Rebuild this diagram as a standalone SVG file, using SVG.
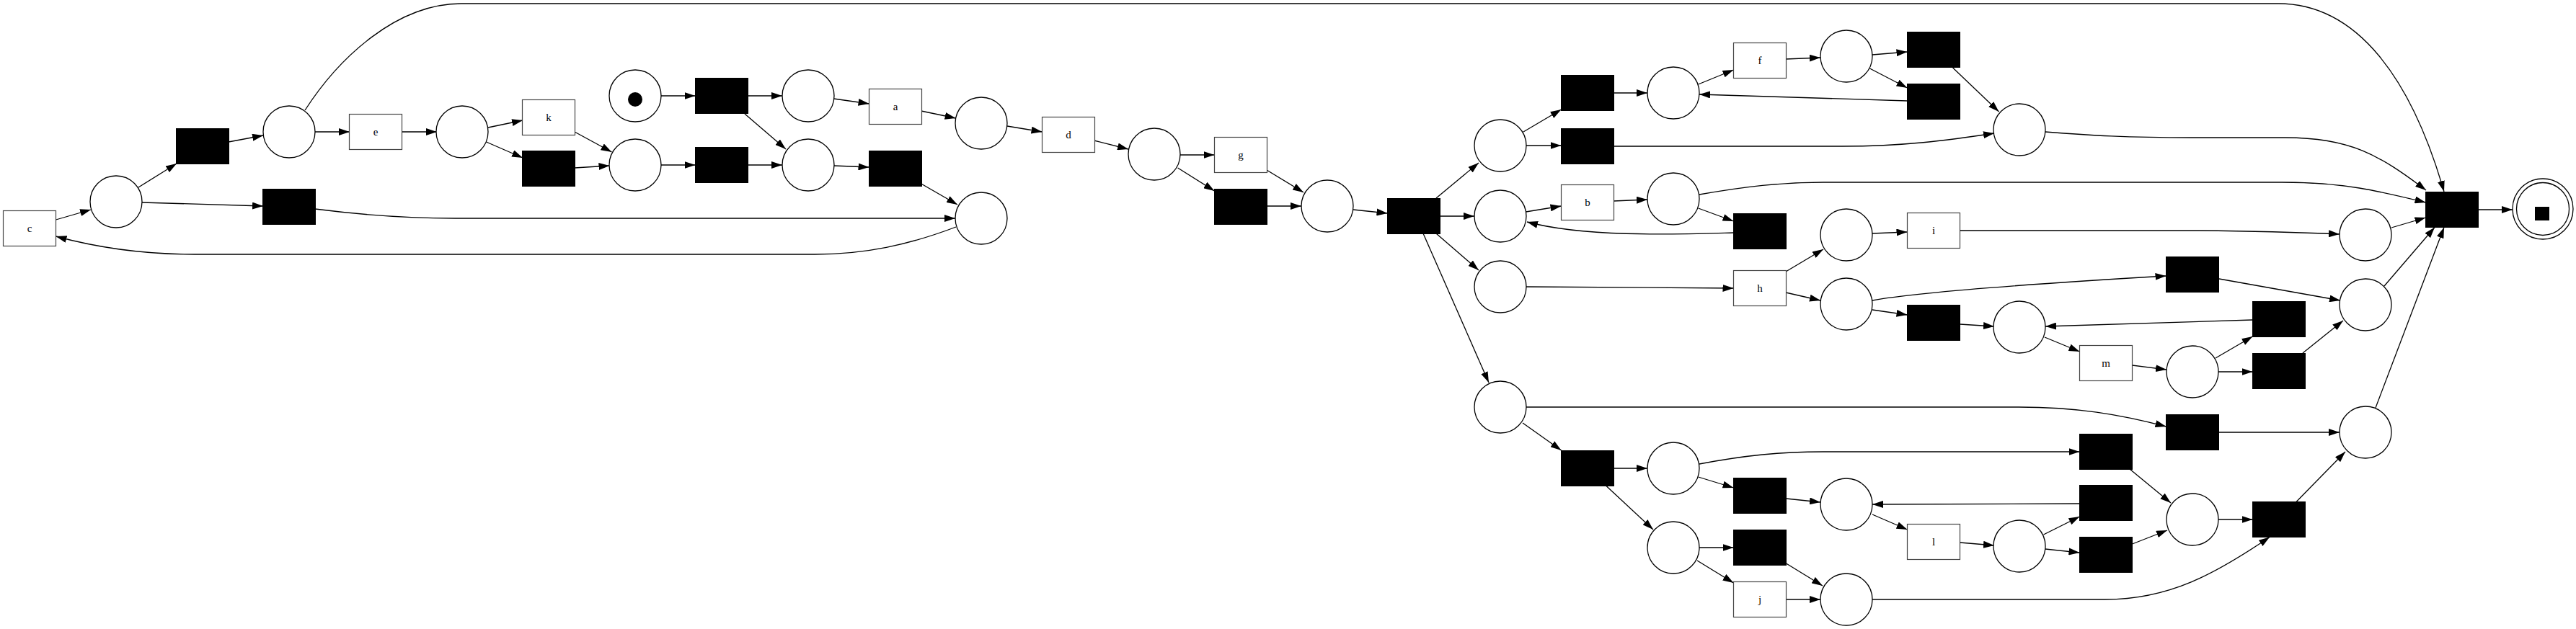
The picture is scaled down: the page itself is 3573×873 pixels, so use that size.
<svg xmlns="http://www.w3.org/2000/svg" width="3573" height="873" viewBox="0 0 3573 873">
<defs>
<style>
.p{fill:#fff;stroke:#000;stroke-width:1.3}
.t{fill:#fff;stroke:#444;stroke-width:1.2}
.s{fill:#000;stroke:#000;stroke-width:1}
.e{fill:none;stroke:#000;stroke-width:1.3;marker-end:url(#ah)}
.l{font-family:"Liberation Serif","Times New Roman",serif;font-size:15px;text-anchor:middle;fill:#000}
</style>
<marker id="ah" markerUnits="userSpaceOnUse" markerWidth="15" markerHeight="10" refX="15" refY="5" orient="auto" viewBox="0 0 15 10">
<path d="M0,0 L15,5 L0,10 Z" fill="#000"/>
</marker>
</defs>
<rect width="3573" height="873" fill="#fff"/>
<g id="edges">
<path class="e" d="M77.5,305 L126,291"/>
<path class="e" d="M192,260 L245,227"/>
<path class="e" d="M197,281 L365,286"/>
<path class="e" d="M317,197 L365,188"/>
<path class="e" d="M437,183 L485,183"/>
<path class="e" d="M557,183 L606,183"/>
<path class="e" d="M677,177 L725,167"/>
<path class="e" d="M674.5,197 L725,219"/>
<path class="e" d="M797,183 L848.5,211"/>
<path class="e" d="M797,233 L845.5,230"/>
<path class="e" d="M437,290 C500,298 560,303 631,303 L1325,303"/>
<path class="e" d="M1326,315 C1260,340 1200,353 1130,353 L270,353 C200,353 140,345 77.5,328"/>
<path class="e" d="M423,153 C470,80 550,5 640,5 L3160,5 C3270,5 3345,110 3390,266"/>
<path class="e" d="M917,133 L964.5,133"/>
<path class="e" d="M1038,133 L1085,133"/>
<path class="e" d="M1033,158 L1090,207"/>
<path class="e" d="M917,229 L964.5,229"/>
<path class="e" d="M1038,229 L1085,229"/>
<path class="e" d="M1156.5,137 L1205.5,144"/>
<path class="e" d="M1277.7,154 L1325.6,164"/>
<path class="e" d="M1397,175 L1445.5,183"/>
<path class="e" d="M1517.5,195 L1565,207"/>
<path class="e" d="M1637,215 L1684.5,215"/>
<path class="e" d="M1633.6,233 L1684.5,265"/>
<path class="e" d="M1156.5,230 L1205.5,232"/>
<path class="e" d="M1277.7,255 L1328,284"/>
<path class="e" d="M1757,236 L1808,267"/>
<path class="e" d="M1757,286 L1805,286"/>
<path class="e" d="M1877,291 L1924.5,296"/>
<path class="e" d="M1992,275 L2051,226"/>
<path class="e" d="M1997,300 L2045,300"/>
<path class="e" d="M1992,324 L2051,375"/>
<path class="e" d="M1974,324 L2065,531"/>
<path class="e" d="M2113,183 L2165.5,152"/>
<path class="e" d="M2116,202 L2165.5,202"/>
<path class="e" d="M2238,129 L2285,129"/>
<path class="e" d="M2355.6,117 L2404.5,97"/>
<path class="e" d="M2477,82 L2525,80"/>
<path class="e" d="M2597,76 L2645.5,72"/>
<path class="e" d="M2593.5,95 L2645.5,122"/>
<path class="e" d="M2645.5,140 L2357,131"/>
<path class="e" d="M2708.6,94 L2772.5,155"/>
<path class="e" d="M2238,203 L2555,203 C2640,203 2700,195 2766,185"/>
<path class="e" d="M2837,183 C2900,188 2950,191 3040,191 L3170,191 C3260,191 3300,215 3365,264"/>
<path class="e" d="M2116.5,294 L2165.5,286"/>
<path class="e" d="M2238,279 L2285,277"/>
<path class="e" d="M2355.6,289 L2404.5,307"/>
<path class="e" d="M2404.5,323 C2330,325 2200,330 2118,308"/>
<path class="e" d="M2357,270 C2420,259 2470,253 2529,253 L3165,253 C3250,253 3300,265 3364.5,281"/>
<path class="e" d="M2117,398 L2404.5,400"/>
<path class="e" d="M2477,377 L2529,346"/>
<path class="e" d="M2477,406 L2525,417"/>
<path class="e" d="M2597,324 L2645.5,322"/>
<path class="e" d="M2718.5,320 L3050,320 C3150,321 3200,323 3245,325"/>
<path class="e" d="M3317,316 L3364.5,302"/>
<path class="e" d="M2597,417 C2650,407 2800,395 3004.5,383"/>
<path class="e" d="M2597,430 L2645.5,437"/>
<path class="e" d="M3078,387 L3246,417"/>
<path class="e" d="M3124.5,444 L2837,453"/>
<path class="e" d="M2718.5,450 L2766,453"/>
<path class="e" d="M2836,468 L2884.5,488"/>
<path class="e" d="M2957.5,507 L3005,513"/>
<path class="e" d="M3073,497 L3124.5,467"/>
<path class="e" d="M3077,516 L3124.5,516"/>
<path class="e" d="M3194,490 L3250,445"/>
<path class="e" d="M3307,397 L3377,315.5"/>
<path class="e" d="M3295,566 L3390,315.5"/>
<path class="e" d="M2117,565 L2800,565 C2880,565 2940,575 3004.5,592"/>
<path class="e" d="M2112,587 L2165.5,625"/>
<path class="e" d="M3077.5,600 L3245,600"/>
<path class="e" d="M2238,650 L2285,650"/>
<path class="e" d="M2228,674.5 L2293,735"/>
<path class="e" d="M2357,644 C2420,632 2470,627 2529,627 L2884.5,627"/>
<path class="e" d="M2355.6,662 L2404.5,677"/>
<path class="e" d="M2477.5,692 L2525,697"/>
<path class="e" d="M2884.5,699 L2597,700"/>
<path class="e" d="M2597,714 L2645.5,735"/>
<path class="e" d="M2718.5,753 L2766,757"/>
<path class="e" d="M2834.5,742 L2884.5,717"/>
<path class="e" d="M2837,762 L2884.5,767"/>
<path class="e" d="M2954,651 L3011,698"/>
<path class="e" d="M2957.5,755 L3006,736"/>
<path class="e" d="M3077,721 L3124.5,721"/>
<path class="e" d="M3185,696.5 L3253,627"/>
<path class="e" d="M2357,760 L2404.5,760"/>
<path class="e" d="M2354,778 L2404.5,809"/>
<path class="e" d="M2477.5,782 L2528,813"/>
<path class="e" d="M2477.5,832 L2525,832"/>
<path class="e" d="M2597,832 L2920,832 C3010,832 3075,795 3148,745.5"/>
<path class="e" d="M3437.5,291 L3485,291"/>
</g>
<g id="c"><rect class="t" x="4.5" y="292.5" width="73" height="49"/><text class="l" x="41" y="322">c</text></g>
<g id="e"><rect class="t" x="484.5" y="158.5" width="73" height="49"/><text class="l" x="521" y="188">e</text></g>
<g id="k"><rect class="t" x="724.5" y="138.5" width="73" height="49"/><text class="l" x="761" y="168">k</text></g>
<g id="a"><rect class="t" x="1205.5" y="123.5" width="73" height="49"/><text class="l" x="1242" y="153">a</text></g>
<g id="d"><rect class="t" x="1445.5" y="162.5" width="73" height="49"/><text class="l" x="1482" y="192">d</text></g>
<g id="g"><rect class="t" x="1684.5" y="190.5" width="73" height="49"/><text class="l" x="1721" y="220">g</text></g>
<g id="f"><rect class="t" x="2404.5" y="59.5" width="73" height="49"/><text class="l" x="2441" y="89">f</text></g>
<g id="b"><rect class="t" x="2165.5" y="256.5" width="73" height="49"/><text class="l" x="2202" y="286">b</text></g>
<g id="h"><rect class="t" x="2404.5" y="375.5" width="73" height="49"/><text class="l" x="2441" y="405">h</text></g>
<g id="i"><rect class="t" x="2645.5" y="295.5" width="73" height="49"/><text class="l" x="2682" y="325">i</text></g>
<g id="m"><rect class="t" x="2884.5" y="479.5" width="73" height="49"/><text class="l" x="2921" y="509">m</text></g>
<g id="l"><rect class="t" x="2645.5" y="727.5" width="73" height="49"/><text class="l" x="2682" y="757">l</text></g>
<g id="j"><rect class="t" x="2404.5" y="807.5" width="73" height="49"/><text class="l" x="2441" y="837">j</text></g>
<g id="t1"><rect class="s" x="244.5" y="178.5" width="73" height="49"/></g>
<g id="t2"><rect class="s" x="364.5" y="262.5" width="73" height="49"/></g>
<g id="t3"><rect class="s" x="724.5" y="209.5" width="73" height="49"/></g>
<g id="t4"><rect class="s" x="964.5" y="108.5" width="73" height="49"/></g>
<g id="t5"><rect class="s" x="1684.5" y="262.5" width="73" height="49"/></g>
<g id="t6"><rect class="s" x="964.5" y="204.5" width="73" height="49"/></g>
<g id="t7"><rect class="s" x="1205.5" y="209.5" width="73" height="49"/></g>
<g id="t8"><rect class="s" x="1924.5" y="275.5" width="73" height="49"/></g>
<g id="t9"><rect class="s" x="2165.5" y="104.5" width="73" height="49"/></g>
<g id="t10"><rect class="s" x="2165.5" y="178.5" width="73" height="49"/></g>
<g id="t11"><rect class="s" x="2404.5" y="296.5" width="73" height="49"/></g>
<g id="t12"><rect class="s" x="2645.5" y="44.5" width="73" height="49"/></g>
<g id="t13"><rect class="s" x="2645.5" y="116.5" width="73" height="49"/></g>
<g id="t14"><rect class="s" x="3364.5" y="266.5" width="73" height="49"/></g>
<g id="t15"><rect class="s" x="3004.5" y="356.5" width="73" height="49"/></g>
<g id="t16"><rect class="s" x="3124.5" y="418.5" width="73" height="49"/></g>
<g id="t17"><rect class="s" x="2645.5" y="423.5" width="73" height="49"/></g>
<g id="t18"><rect class="s" x="3124.5" y="490.5" width="73" height="49"/></g>
<g id="t19"><rect class="s" x="3004.5" y="575.5" width="73" height="49"/></g>
<g id="t20"><rect class="s" x="2884.5" y="602.5" width="73" height="49"/></g>
<g id="t21"><rect class="s" x="2884.5" y="673.5" width="73" height="49"/></g>
<g id="t22"><rect class="s" x="3124.5" y="696.5" width="73" height="49"/></g>
<g id="t23"><rect class="s" x="2884.5" y="745.5" width="73" height="49"/></g>
<g id="t24"><rect class="s" x="2165.5" y="625.5" width="73" height="49"/></g>
<g id="t25"><rect class="s" x="2404.5" y="663.5" width="73" height="49"/></g>
<g id="t26"><rect class="s" x="2404.5" y="735.5" width="73" height="49"/></g>
<g id="p0"><circle class="p" cx="881" cy="133" r="36"/><circle cx="881" cy="138" r="10" fill="#000"/></g>
<g id="p1"><circle class="p" cx="161" cy="280" r="36"/></g>
<g id="p2"><circle class="p" cx="401" cy="183" r="36"/></g>
<g id="p3"><circle class="p" cx="641" cy="183" r="36"/></g>
<g id="p5"><circle class="p" cx="881" cy="229" r="36"/></g>
<g id="p6"><circle class="p" cx="1121" cy="133" r="36"/></g>
<g id="p7"><circle class="p" cx="1361" cy="171" r="36"/></g>
<g id="p8"><circle class="p" cx="1601" cy="214" r="36"/></g>
<g id="p9"><circle class="p" cx="1121" cy="229" r="36"/></g>
<g id="p10"><circle class="p" cx="1361" cy="303" r="36"/></g>
<g id="p11"><circle class="p" cx="1841" cy="286" r="36"/></g>
<g id="p12"><circle class="p" cx="2081" cy="202" r="36"/></g>
<g id="p13"><circle class="p" cx="2081" cy="300" r="36"/></g>
<g id="p14"><circle class="p" cx="2081" cy="398" r="36"/></g>
<g id="p15"><circle class="p" cx="2321" cy="129" r="36"/></g>
<g id="p16"><circle class="p" cx="2321" cy="276" r="36"/></g>
<g id="p17"><circle class="p" cx="2561" cy="78" r="36"/></g>
<g id="p18"><circle class="p" cx="2561" cy="326" r="36"/></g>
<g id="p19"><circle class="p" cx="2561" cy="422" r="36"/></g>
<g id="p20"><circle class="p" cx="2801" cy="180" r="36"/></g>
<g id="p21"><circle class="p" cx="3281" cy="326" r="36"/></g>
<g id="p22"><circle class="p" cx="3281" cy="423" r="36"/></g>
<g id="p23"><circle class="p" cx="2801" cy="454" r="36"/></g>
<g id="p24"><circle class="p" cx="3041" cy="516" r="36"/></g>
<g id="p25"><circle class="p" cx="3281" cy="600" r="36"/></g>
<g id="p26"><circle class="p" cx="3041" cy="721" r="36"/></g>
<g id="p27"><circle class="p" cx="2801" cy="758" r="36"/></g>
<g id="p28"><circle class="p" cx="2081" cy="565" r="36"/></g>
<g id="p29"><circle class="p" cx="2321" cy="650" r="36"/></g>
<g id="p30"><circle class="p" cx="2321" cy="760" r="36"/></g>
<g id="p31"><circle class="p" cx="2561" cy="700" r="36"/></g>
<g id="p32"><circle class="p" cx="2561" cy="832" r="36"/></g>
<g id="pend"><circle class="p" cx="3527" cy="290" r="42"/><circle class="p" cx="3527" cy="290" r="36.5"/><rect x="3516" y="287" width="20" height="19" fill="#000"/></g>
</svg>
